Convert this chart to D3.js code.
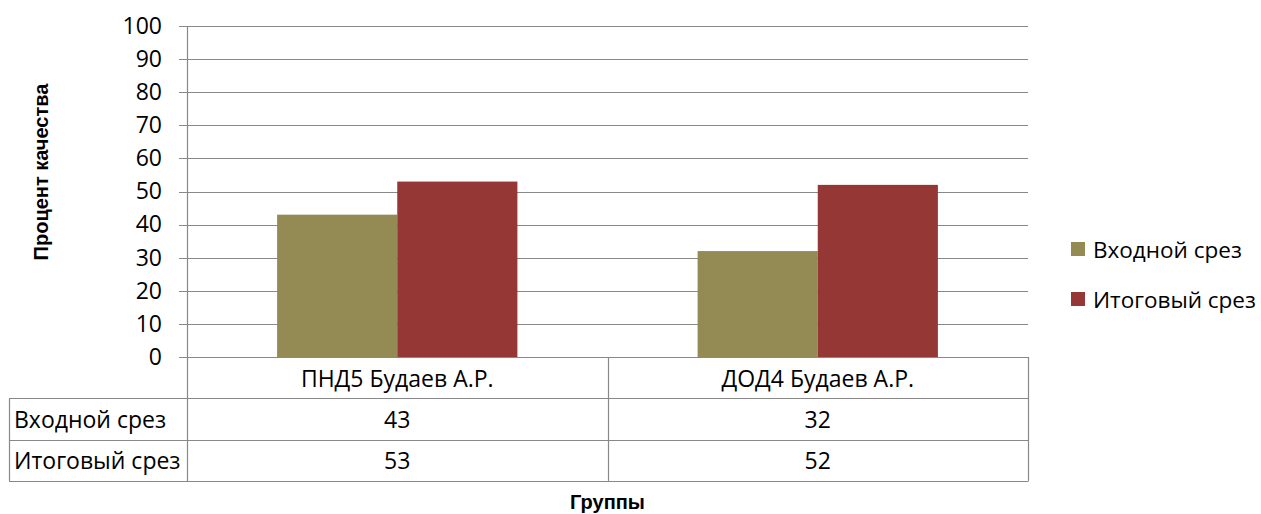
<!DOCTYPE html>
<html>
<head>
<meta charset="utf-8">
<script src="https://cdn.jsdelivr.net/npm/d3@7"></script>
<style>
	body { margin: 0; background: #fff; }
	svg { display: block; font-family: "Open Sans", "Noto Sans", sans-serif; }
</style>
</head>
<body>
<svg id="chart" width="1261" height="514"></svg>
<script>

const GROUPS = ['ПНД5 Будаев А.Р.', 'ДОД4 Будаев А.Р.'];
const SERIES = ['Входной срез', 'Итоговый срез'];
const INPUT_VALUES = [43, 32];
const FINAL_VALUES = [53, 52];
const Y_TICKS = [0, 10, 20, 30, 40, 50, 60, 70, 80, 90, 100];
const COLORS = ['#948a54', '#953735'];

const AXIS_COLOR = '#888';
const FONT_SIZE = 23;

function drawChart() {
	const svg = d3.select('#chart');

	const plot = { left: 187, right: 1028, top: 26, bottom: 357 };
	const rowH = 41.3;
	const tableLeft = 9;

	const rows = SERIES.map((name, i) => ({
		name: name,
		values: i === 0 ? INPUT_VALUES : FINAL_VALUES,
		color: COLORS[i]
	}));

	const y = d3.scaleLinear().domain([0, 100]).range([plot.bottom, plot.top]);
	const x = d3.scaleBand().domain(GROUPS).range([plot.left, plot.right]);
	const xInner = d3.scaleBand().domain(SERIES).range([0, x.bandwidth()]).paddingOuter(0.75);

	// gridlines
	svg.append('g')
		.selectAll('line')
		.data(Y_TICKS)
		.enter()
		.append('line')
			.attr('x1', plot.left - 8)
			.attr('x2', plot.right)
			.attr('y1', d => Math.round(y(d)) + 0.5)
			.attr('y2', d => Math.round(y(d)) + 0.5)
			.attr('stroke', AXIS_COLOR)
			.attr('stroke-width', 1.2);

	// y axis labels
	const yAxis = d3.axisLeft(y).tickValues(Y_TICKS).tickSize(0).tickPadding(25);
	const yg = svg.append('g')
		.attr('transform', `translate(${plot.left}, 0)`)
		.call(yAxis);
	yg.select('.domain').remove();
	yg.attr('font-size', FONT_SIZE).attr('font-family', null);
	yg.selectAll('text')
		.attr('fill', '#000');

	// bars
	svg.append('g')
		.selectAll('g')
		.data(rows)
		.enter()
		.append('g')
			.attr('fill', d => d.color)
		.selectAll('rect')
		.data(d => d.values.map((v, i) => ({ series: d.name, group: GROUPS[i], value: v })))
		.enter()
		.append('rect')
			.attr('x', d => x(d.group) + xInner(d.series))
			.attr('width', xInner.bandwidth())
			.attr('y', d => y(d.value))
			.attr('height', d => y(0) - y(d.value));

	// data table
	const table = svg.append('g')
		.attr('stroke', AXIS_COLOR)
		.attr('stroke-width', 1.2)
		.attr('fill', 'none');
	const tableBottom = plot.bottom + rowH * 3;
	// vertical axis line runs down through the table
	table.append('line')
		.attr('x1', plot.left + 0.5).attr('x2', plot.left + 0.5)
		.attr('y1', plot.top).attr('y2', tableBottom);
	GROUPS.forEach(g => {
		const xr = Math.round(x(g) + x.bandwidth()) + 0.5;
		table.append('line')
			.attr('x1', xr).attr('x2', xr)
			.attr('y1', plot.bottom).attr('y2', tableBottom);
	});
	table.append('line')
		.attr('x1', tableLeft + 0.5).attr('x2', tableLeft + 0.5)
		.attr('y1', plot.bottom + rowH).attr('y2', tableBottom);
	[1, 2, 3].forEach(r => {
		const yy = Math.round(plot.bottom + rowH * r) + 0.5;
		table.append('line')
			.attr('x1', tableLeft).attr('x2', plot.right + 0.5)
			.attr('y1', yy).attr('y2', yy);
	});

	const textG = svg.append('g')
		.attr('font-size', FONT_SIZE)
		.attr('fill', '#000')
		.attr('dominant-baseline', 'central');
	textG.selectAll('text.cat')
		.data(GROUPS)
		.enter()
		.append('text')
			.attr('class', 'cat')
			.attr('x', d => x(d) + x.bandwidth() / 2)
			.attr('y', plot.bottom + rowH / 2)
			.attr('text-anchor', 'middle')
			.text(d => d);
	rows.forEach((row, r) => {
		const cy = plot.bottom + rowH * (r + 1.5);
		textG.append('text')
			.attr('x', tableLeft + 5)
			.attr('y', cy)
			.text(row.name);
		textG.selectAll(null)
			.data(row.values)
			.enter()
			.append('text')
				.attr('x', (d, i) => x(GROUPS[i]) + x.bandwidth() / 2)
				.attr('y', cy)
				.attr('text-anchor', 'middle')
				.text(d => d);
	});

	// axis titles
	const titleFont = '"Liberation Sans", Arial, sans-serif';
	svg.append('text')
		.attr('transform', 'translate(41, 172) rotate(-90)')
		.attr('text-anchor', 'middle')
		.attr('dominant-baseline', 'central')
		.attr('font-family', titleFont)
		.attr('font-size', 20)
		.attr('font-weight', 'bold')
		.text('Процент качества');
	svg.append('text')
		.attr('x', (plot.left + plot.right) / 2)
		.attr('y', 502)
		.attr('text-anchor', 'middle')
		.attr('dominant-baseline', 'central')
		.attr('font-family', titleFont)
		.attr('font-size', 20)
		.attr('font-weight', 'bold')
		.text('Группы');

	// legend
	const legend = svg.append('g')
		.selectAll('g')
		.data(rows)
		.enter()
		.append('g')
			.attr('transform', (d, i) => `translate(1071, ${249 + i * 50})`);
	legend.append('rect')
		.attr('x', 0).attr('y', -7)
		.attr('width', 14).attr('height', 14)
		.attr('fill', d => d.color);
	legend.append('text')
		.attr('x', 22)
		.attr('dominant-baseline', 'central')
		.attr('font-size', FONT_SIZE - 0.5)
		.text(d => d.name);
}

drawChart();
</script>
</body>
</html>
